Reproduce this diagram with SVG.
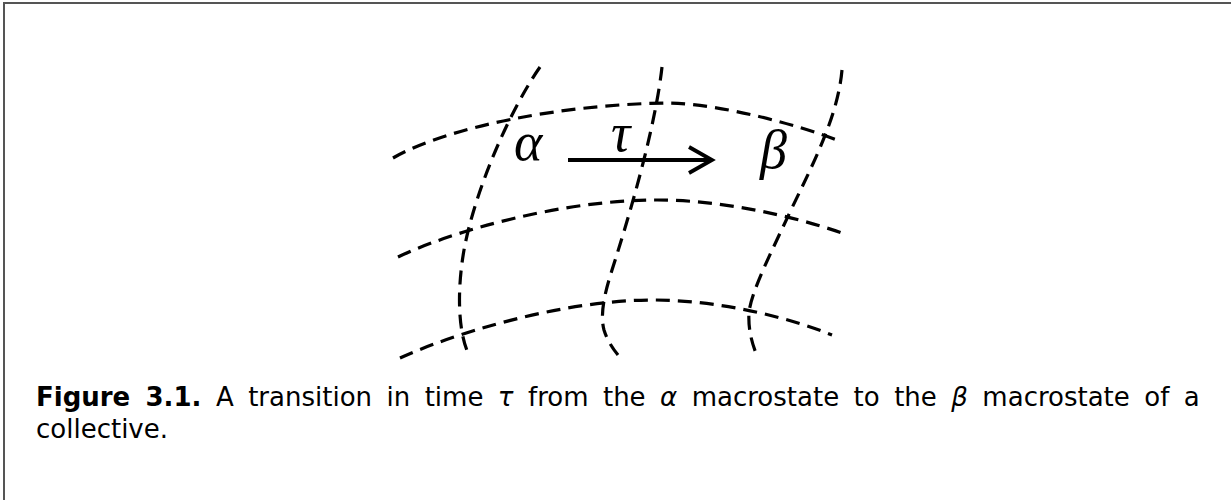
<svg xmlns="http://www.w3.org/2000/svg" width="1231" height="500" viewBox="0 0 1231 500">
  <style>
    .grid { fill: none; stroke: #000; stroke-width: 3.2; stroke-dasharray: 14 8; stroke-linecap: butt; }
    .sym { font-family: "Liberation Serif", "Times New Roman", serif; font-style: italic; font-size: 54px; fill: #000; }
    .cap { font-family: "DejaVu Sans", Verdana, sans-serif; font-size: 26px; fill: #000; }
    .arrow { fill: none; stroke: #000; stroke-width: 3.8; }
  </style>
  <rect width="1231" height="500" fill="#fff"/>
  <path d="M4,500 V3 H1231" fill="none" stroke="#555" stroke-width="2"/>

  <g id="grid">
    <path class="grid" d="M393,158 C445,128 560,104 670,103 C720,104 800,125 842,142"/>
    <path class="grid" d="M398,257 C450,232 560,200 657,200 C720,200 790,215 842,233"/>
    <path class="grid" d="M400,358 C450,335 560,300 653,300 C720,300 790,318 832,335"/>
    <path class="grid" d="M540,67 C510,110 475,190 464,250 C457,290 458,330 468,353"/>
    <path class="grid" d="M662,67 C655,130 628,220 612,270 C604,295 600,315 604,330 Q608,343 618,355"/>
    <path class="grid" d="M842,70 C838,115 815,160 790,212 C770,255 752,290 749,312 C748,330 752,343 757,356"/>
  </g>

  <g id="node-alpha"><text class="sym" x="514" y="160">α</text></g>
  <g id="node-beta"><text class="sym" x="760" y="168">β</text></g>

  <g id="connectors">
    <line class="arrow" x1="568" y1="160" x2="710" y2="160"/>
    <polyline class="arrow" points="689,147 712,160 689,173"/>
    <text class="sym" x="611" y="151">τ</text>
  </g>

  <g id="caption">
    <text class="cap" x="36" y="406" word-spacing="6.2"><tspan font-weight="bold">Figure 3.1.</tspan> A transition in time <tspan font-style="italic">τ</tspan> from the <tspan font-style="italic">α</tspan> macrostate to the <tspan font-style="italic">β</tspan> macrostate of a</text>
    <text class="cap" x="36" y="438">collective.</text>
  </g>
</svg>
